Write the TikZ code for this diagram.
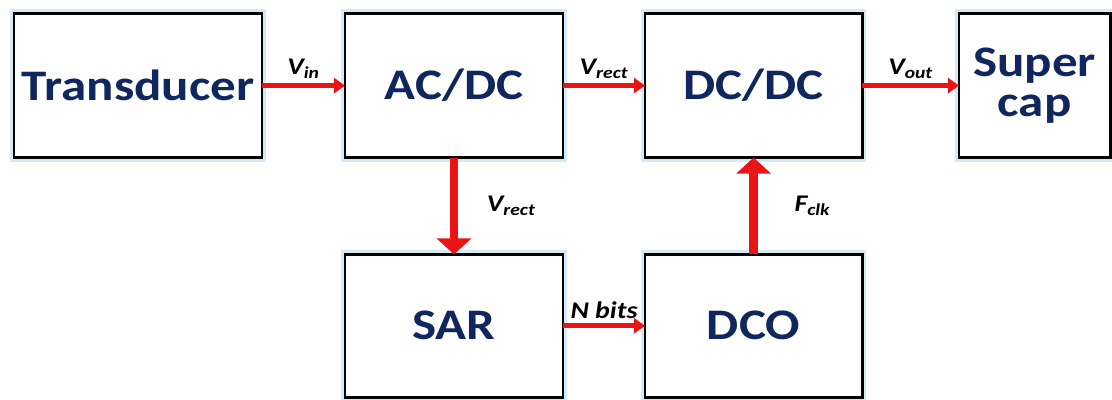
\documentclass[tikz,border=0pt]{standalone}
\usepackage{fontspec}
\setmainfont{Carlito}
\newfontfamily\blockfont{Carlito}[FakeStretch=1.17]
\usepackage{xcolor}
\usepackage{tikz}
\usetikzlibrary{arrows.meta, positioning}
\definecolor{navy}{RGB}{16,38,94}
\definecolor{glow}{RGB}{212,234,246}
\definecolor{arrred}{RGB}{235,20,20}
\tikzset{
  block/.style  = {rectangle, draw=black, line width=2pt, fill=white,
                   preaction={draw=glow, line width=6pt},
                   minimum height=3.6cm, inner sep=0pt, outer sep=0pt,
                   align=center, text=navy,
                   font=\blockfont\fontsize{31}{28}\selectfont\bfseries},
  arrow/.style  = {-{Triangle[length=0.28cm, width=0.38cm]}, line width=3.4pt, arrred},
  farrow/.style = {-{Triangle[length=0.4cm, width=0.85cm]}, line width=6pt, arrred},
  lbl/.style    = {font=\blockfont\fontsize{17}{19}\selectfont\bfseries\itshape, text=black},
}

\begin{document}
\begin{tikzpicture}[node distance=2.05cm]
  \useasboundingbox (0,0) rectangle (27.8,-10);

  \node[block, minimum width=6.2cm] (trans) at (3.45,-2.14) {Transducer};
  \node[block, minimum width=5.45cm, right=2.075cm of trans] (acdc) {AC/DC};
  \node[block, minimum width=5.43cm, right=2.05cm of acdc] (dcdc) {DC/DC};
  \node[block, minimum width=3.78cm, right=2.42cm of dcdc] (scap) {Super\\cap};
  \node[block, minimum width=5.45cm, minimum height=3.57cm, below=2.42cm of acdc] (sar) {SAR};
  \node[block, minimum width=5.43cm, minimum height=3.57cm, below=2.42cm of dcdc] (dco) {DCO};

  \draw[arrow] (trans) -- node[lbl, above] {V\textsubscript{in}} (acdc);
  \draw[arrow] (acdc) -- node[lbl, above] {V\textsubscript{rect}} (dcdc);
  \draw[arrow] (dcdc) -- node[lbl, above] {V\textsubscript{out}} (scap);
  \draw[arrow] (sar) -- node[lbl, above] {N bits} (dco);

  \draw[farrow] (acdc) -- node[lbl, right=0.6cm] {V\textsubscript{rect}} (sar);
  \draw[farrow] (dco) -- node[lbl, right=0.8cm] {F\textsubscript{clk}} (dcdc);
\end{tikzpicture}
\end{document}
